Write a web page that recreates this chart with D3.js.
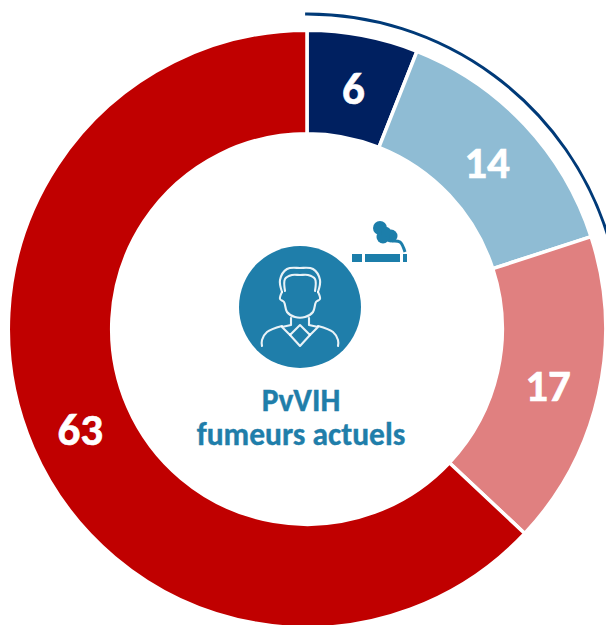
<!DOCTYPE html>
<html><head><meta charset="utf-8">
<script src="https://cdn.jsdelivr.net/npm/d3@7"></script>
<style>html,body{margin:0;padding:0;background:#fff;overflow:hidden}svg{display:block}text{font-family:Carlito,Lato,"Open Sans",sans-serif;font-weight:700}</style>
</head><body><svg id="c" width="606" height="625">
<defs><filter id="soft" x="-10%" y="-10%" width="120%" height="120%"><feGaussianBlur stdDeviation="0.55"/></filter></defs>
</svg>
<script>
const categories = ["a","b","c","d"];
const values = [6,14,17,63];
const colors = ["#002060","#8FBCD4","#E08080","#C00000"];
const bracketSpan = [0,1];
const centerLines = ["PvVIH","fumeurs actuels"];
const ICON = "#1F7EAA";

const svg = d3.select("#c");
const cx = 307, cy = 329, R = 298.7, r = 195.3;
const root = svg.append("g").attr("transform",`translate(${cx},${cy})`);
const pie = d3.pie().sort(null).value((d,i)=>values[i]);
const arcs = pie(categories);
const arc = d3.arc().innerRadius(r).outerRadius(R);
root.selectAll("path.s").data(arcs).join("path").attr("class","s")
  .attr("d",arc).attr("fill",(d,i)=>colors[i]).attr("stroke","#fff").attr("stroke-width",3.5);
root.selectAll("text.v").data(arcs).join("text").attr("class","v")
  .attr("transform",d=>`translate(${arc.centroid(d)})`)
  .attr("text-anchor","middle").attr("dy",18)
  .attr("font-size",45).attr("fill","#fff").attr("stroke","#fff").attr("stroke-width",0.6).text((d,i)=>values[i]);
root.append("path").attr("fill","none").attr("stroke","#003A78").attr("stroke-width",3)
  .attr("d",d3.arc()({innerRadius:315,outerRadius:315,startAngle:arcs[bracketSpan[0]].startAngle-0.006,endAngle:arcs[bracketSpan[1]].endAngle+0.02}));

// person icon
const ic = svg.append("g").attr("transform","translate(300,307)");
ic.append("circle").attr("r",61).attr("fill",ICON);
const line = d3.line().curve(d3.curveCatmullRom.alpha(0.5));
const lw = ic.append("g").attr("fill","none").attr("stroke","#fff").attr("stroke-opacity",.9).attr("stroke-width",2.1).attr("stroke-linejoin","round").attr("stroke-linecap","round").attr("filter","url(#soft)");
const shapes = [
 [[-18,-15],[-20,-27],[-13,-38],[0,-39],[13,-38],[20,-27],[18,-15]],
 [[-15,-16],[-15,-28],[-8,-32],[0,-32],[8,-32],[15,-28],[15,-16]],
 [[-18,-15],[-20,-8],[-16,-5],[-13,5],[-5,10],[5,10],[13,5],[16,-5],[20,-8],[18,-15]],
 [[-38,39],[-38,33],[-33,25],[-18,19]],
 [[38,39],[38,33],[33,25],[18,19]]
];
shapes.forEach(s=>lw.append("path").attr("d",line(s)));
const straight = d3.line();
[
 [[-9,11],[-9,18],[-18,20],[-10,28],[0,18],[10,28],[18,20],[9,18],[9,11]],
 [[-10,28],[0,39],[10,28]]
].forEach(s=>lw.append("path").attr("d",straight(s)));

// cigarette icon
const cg = svg.append("g").attr("fill",ICON).attr("filter","url(#soft)");
[[352,254,10],[365,254,35],[403,254,4]].forEach(b=>cg.append("rect").attr("x",b[0]).attr("y",b[1]).attr("width",b[2]).attr("height",8));
[[380,228,7],[391,236,6.5],[383,237,6.5],[386,232,5]].forEach(c=>cg.append("circle").attr("cx",c[0]).attr("cy",c[1]).attr("r",c[2]));
cg.append("path").attr("fill","none").attr("stroke",ICON).attr("stroke-width",3)
  .attr("d",line([[392,241],[400,242],[405,252]]));

// centre text
const tl = svg.append("g").attr("text-anchor","middle").attr("fill",ICON).attr("stroke",ICON).attr("stroke-width",0.4).attr("font-size",31.5);
centerLines.forEach((t,i)=>tl.append("text").attr("x",301).attr("y",411+i*34).text(t));
</script></body></html>
